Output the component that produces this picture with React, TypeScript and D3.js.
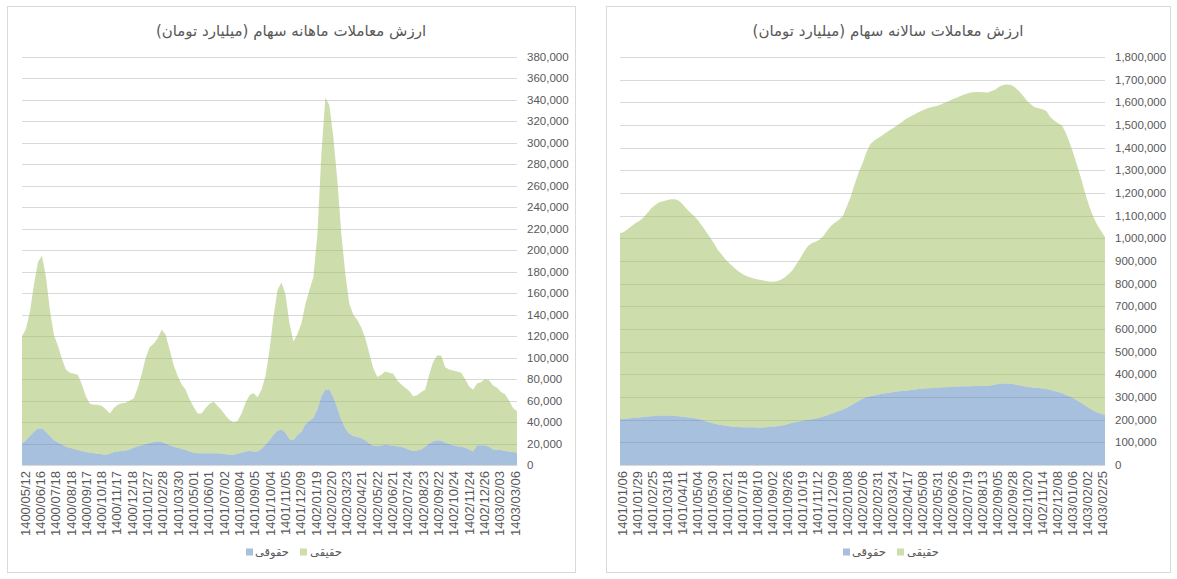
import React from 'react';
import * as d3 from 'd3';

// monthly (rolling) trading value, billion toman
const MONTHLY_DATES = [
    '1400/05/12', '1400/06/16', '1400/07/18', '1400/08/18', '1400/09/17', '1400/10/18',
    '1400/11/17', '1400/12/18', '1401/01/27', '1401/02/28', '1401/03/30', '1401/05/01',
    '1401/06/01', '1401/07/02', '1401/08/04', '1401/09/05', '1401/10/04', '1401/11/05',
    '1401/12/09', '1402/01/19', '1402/02/20', '1402/03/23', '1402/04/21', '1402/05/22',
    '1402/06/21', '1402/07/24', '1402/08/23', '1402/09/22', '1402/10/24', '1402/11/24',
    '1402/12/26', '1403/02/03', '1403/03/06',
];

const MONTHLY_HOGHOOGHI = [
    20000, 23000, 27000, 31000, 34000, 34000, 31000, 27000, 23000, 21000,
    19000, 17000, 16000, 15000, 14000, 13000, 12000, 11500, 11000, 10500,
    10000, 9500, 10500, 12000, 12500, 13000, 13500, 14500, 16000, 17500,
    18500, 19500, 20500, 21500, 22000, 21500, 20000, 18500, 17000, 16000,
    15000, 14000, 12500, 11500, 11000, 11000, 11000, 11000, 11000, 11000,
    10500, 10000, 9500, 9500, 10500, 11500, 12500, 13000, 12500, 12500,
    15000, 19000, 23000, 28000, 32000, 33000, 30000, 24000, 23000, 28000,
    31000, 38000, 41000, 44000, 52000, 64000, 70000, 70000, 63000, 53000,
    42000, 34000, 29000, 27000, 26000, 25000, 23000, 20000, 18000, 17500,
    18000, 19000, 18500, 18000, 17500, 17000, 15500, 14000, 13000, 13500,
    14500, 17000, 20000, 22000, 23000, 22500, 21000, 19500, 18500, 17500,
    17000, 16000, 14500, 12500, 18500, 18500, 18500, 17000, 14500, 14000,
    14000, 13000, 12500, 12000, 11500,
];

const MONTHLY_HAGHIGHI = [
    100000, 104000, 116000, 137000, 155000, 161000, 144000, 117000, 98000, 90000,
    80000, 72000, 70000, 70000, 70000, 62000, 52000, 45500, 45000, 45500,
    45000, 42500, 37500, 41000, 43500, 44500, 44500, 45500, 46000, 54500,
    66500, 80500, 89500, 91500, 96000, 104500, 101000, 88500, 76000, 67000,
    60000, 56000, 48500, 42500, 37000, 37000, 42000, 46000, 48000, 44000,
    40500, 36000, 32500, 30500, 30500, 36500, 45500, 52000, 54500, 50500,
    55000, 64000, 84000, 110000, 131000, 137000, 129000, 108000, 92000, 94000,
    101000, 112000, 122000, 131000, 163000, 226000, 272000, 265000, 242000, 212000,
    173000, 144000, 121000, 113000, 109000, 103000, 95000, 84000, 72000, 64500,
    66000, 68000, 67500, 67000, 61500, 58000, 56500, 55000, 51000, 51500,
    53500, 53000, 64000, 74000, 79000, 79500, 70000, 69500, 69500, 69500,
    69000, 64000, 58500, 57500, 57500, 58500, 61500, 62000, 59500, 58000,
    54000, 53000, 47500, 41000, 38500,
];

// yearly (rolling) trading value, billion toman
const YEARLY_DATES = [
    '1401/01/06', '1401/01/29', '1401/02/25', '1401/03/18', '1401/04/11', '1401/05/04',
    '1401/05/30', '1401/06/21', '1401/07/18', '1401/08/10', '1401/09/02', '1401/09/26',
    '1401/10/19', '1401/11/12', '1401/12/09', '1402/01/08', '1402/02/06', '1402/02/31',
    '1402/03/24', '1402/04/17', '1402/05/08', '1402/05/31', '1402/06/26', '1402/07/19',
    '1402/08/13', '1402/09/05', '1402/09/28', '1402/10/20', '1402/11/14', '1402/12/08',
    '1403/01/06', '1403/02/02', '1403/02/25',
];

const YEARLY_HOGHOOGHI = [
    202000, 203000, 205000, 207000, 209000, 210000, 212000, 214000, 215000, 217000,
    218000, 218000, 218000, 217000, 216000, 215000, 213000, 211000, 209000, 206000,
    203000, 198000, 192000, 187000, 183000, 179000, 176000, 173000, 171000, 169000,
    168000, 167000, 166000, 166000, 166000, 165000, 165000, 166000, 168000, 169000,
    171000, 173000, 176000, 181000, 186000, 190000, 193000, 196000, 199000, 202000,
    205000, 209000, 214000, 220000, 226000, 232000, 238000, 245000, 253000, 262000,
    272000, 282000, 292000, 299000, 303000, 307000, 311000, 314000, 317000, 319000,
    322000, 324000, 326000, 328000, 330000, 332000, 334000, 336000, 338000, 339000,
    340000, 341000, 342000, 343000, 344000, 345000, 346000, 346000, 347000, 347000,
    347000, 348000, 348000, 348000, 349000, 352000, 355000, 358000, 360000, 360000,
    358000, 355000, 352000, 348000, 345000, 343000, 341000, 340000, 338000, 335000,
    331000, 327000, 322000, 316000, 309000, 302000, 293000, 283000, 272000, 261000,
    250000, 240000, 232000, 226000, 221000,
];

const YEARLY_HAGHIGHI = [
    820000, 825000, 836000, 847000, 859000, 868000, 880000, 898000, 918000, 930000,
    941000, 946000, 950000, 955000, 956000, 952000, 937000, 920000, 904000, 891000,
    876000, 856000, 838000, 818000, 795000, 770000, 753000, 734000, 718000, 705000,
    690000, 679000, 670000, 663000, 658000, 655000, 651000, 647000, 642000, 640000,
    640000, 643000, 650000, 659000, 671000, 694000, 717000, 744000, 766000, 776000,
    780000, 785000, 796000, 815000, 829000, 838000, 844000, 853000, 887000, 923000,
    968000, 1008000, 1038000, 1081000, 1112000, 1125000, 1132000, 1140000, 1149000, 1159000,
    1166000, 1176000, 1186000, 1197000, 1205000, 1212000, 1220000, 1226000, 1232000, 1237000,
    1240000, 1243000, 1248000, 1255000, 1261000, 1269000, 1274000, 1282000, 1288000, 1293000,
    1297000, 1298000, 1298000, 1296000, 1294000, 1298000, 1302000, 1312000, 1316000, 1319000,
    1319000, 1310000, 1298000, 1282000, 1263000, 1249000, 1237000, 1234000, 1232000, 1227000,
    1204000, 1193000, 1186000, 1182000, 1156000, 1118000, 1077000, 1032000, 985000, 934000,
    890000, 855000, 828000, 806000, 784000,
];

const SERIES = [
    { key: 'hoghooghi', label: 'حقوقی', color: '#4F81BD' },
    { key: 'haghighi', label: 'حقیقی', color: '#9BBB59' },
];

const TEXT = '#595959';
const GRID = '#d9d9d9';
const NUM_FONT = '"Liberation Sans", Arial, sans-serif';
const FA_FONT = '"DejaVu Sans", sans-serif';

interface PanelProps {
    boxLeft: number;
    boxRight: number;
    plotLeft: number;
    plotRight: number;
    labelLeft: number;
    labelRight: number;
    title: string;
    dates: string[];
    hoghooghi: number[];
    haghighi: number[];
    yMax: number;
    yStep: number;
}

const Panel: React.FC<PanelProps> = ({
    boxLeft,
    boxRight,
    plotLeft,
    plotRight,
    labelLeft,
    labelRight,
    title,
    dates,
    hoghooghi,
    haghighi,
    yMax,
    yStep,
}) => {
    const top = 57;
    const bottom = 465;
    const cx = (boxLeft + boxRight) / 2;

    const rows = hoghooghi.map((v, i) => ({ i, hoghooghi: v, haghighi: haghighi[i] }));
    const stacked = d3.stack<any>().keys(SERIES.map((s) => s.key))(rows);

    const x = d3.scaleLinear().domain([0, rows.length - 1]).range([plotLeft, plotRight]);
    const xLabel = d3.scalePoint<string>().domain(dates).range([labelLeft, labelRight]);
    const y = d3.scaleLinear().domain([0, yMax]).range([bottom, top]);

    const area = d3
        .area<any>()
        .x((d) => x(d.data.i))
        .y0((d) => y(d[0]))
        .y1((d) => y(d[1]));

    const yTicks = d3.range(0, yMax + 1, yStep);
    const fmt = d3.format(',');

    return (
        <g>
            <rect
                x={boxLeft + 0.5}
                y={6.5}
                width={boxRight - boxLeft}
                height={566}
                fill="#fff"
                stroke={GRID}
            />
            <text
                x={cx}
                y={36}
                textAnchor="middle"
                fontFamily={FA_FONT}
                fontSize={15}
                fill={TEXT}
            >
                {title}
            </text>

            {/* gridlines */}
            {yTicks.map((t) => (
                <line
                    key={t}
                    x1={plotLeft}
                    x2={plotRight}
                    y1={Math.round(y(t)) + 0.5}
                    y2={Math.round(y(t)) + 0.5}
                    stroke={GRID}
                />
            ))}

            {/* stacked areas */}
            {stacked.map((layer, k) => (
                <path
                    key={layer.key}
                    d={area(layer) || ''}
                    fill={SERIES[k].color}
                    fillOpacity={0.5}
                />
            ))}

            {/* y labels on the right */}
            {yTicks.map((t) => (
                <text
                    key={t}
                    x={plotRight + 10}
                    y={y(t)}
                    dy="0.35em"
                    fontFamily={NUM_FONT}
                    fontSize={11.5}
                    fill={TEXT}
                >
                    {fmt(t)}
                </text>
            ))}

            {/* x labels */}
            {dates.map((d) => (
                <text
                    key={d}
                    transform={`translate(${xLabel(d)}, 471) rotate(-90)`}
                    dy="0.35em"
                    textAnchor="end"
                    fontFamily={NUM_FONT}
                    fontSize={13}
                    fill={TEXT}
                >
                    {d}
                </text>
            ))}

            {/* legend */}
            {SERIES.map((s, k) => (
                <g key={s.key} transform={`translate(${cx - 45 + k * 54}, 552)`}>
                    <rect x={0} y={-3.5} width={7} height={7} fill={s.color} fillOpacity={0.5} />
                    <text
                        x={26}
                        y={0}
                        dy="0.35em"
                        textAnchor="middle"
                        fontFamily={FA_FONT}
                        fontSize={11.5}
                        fill={TEXT}
                    >
                        {s.label}
                    </text>
                </g>
            ))}
        </g>
    );
};

export default function App() {
    return (
        <svg
            width={1177}
            height={579}
            style={{ position: 'fixed', left: 0, top: 0, background: '#fff' }}
        >
            <Panel
                boxLeft={7}
                boxRight={575}
                plotLeft={22}
                plotRight={517}
                labelLeft={25}
                labelRight={515}
                title="ارزش معاملات ماهانه سهام (میلیارد تومان)"
                dates={MONTHLY_DATES}
                hoghooghi={MONTHLY_HOGHOOGHI}
                haghighi={MONTHLY_HAGHIGHI}
                yMax={380000}
                yStep={20000}
            />
            <Panel
                boxLeft={606}
                boxRight={1170}
                plotLeft={620}
                plotRight={1105}
                labelLeft={622}
                labelRight={1102}
                title="ارزش معاملات سالانه سهام (میلیارد تومان)"
                dates={YEARLY_DATES}
                hoghooghi={YEARLY_HOGHOOGHI}
                haghighi={YEARLY_HAGHIGHI}
                yMax={1800000}
                yStep={100000}
            />
        </svg>
    );
}
